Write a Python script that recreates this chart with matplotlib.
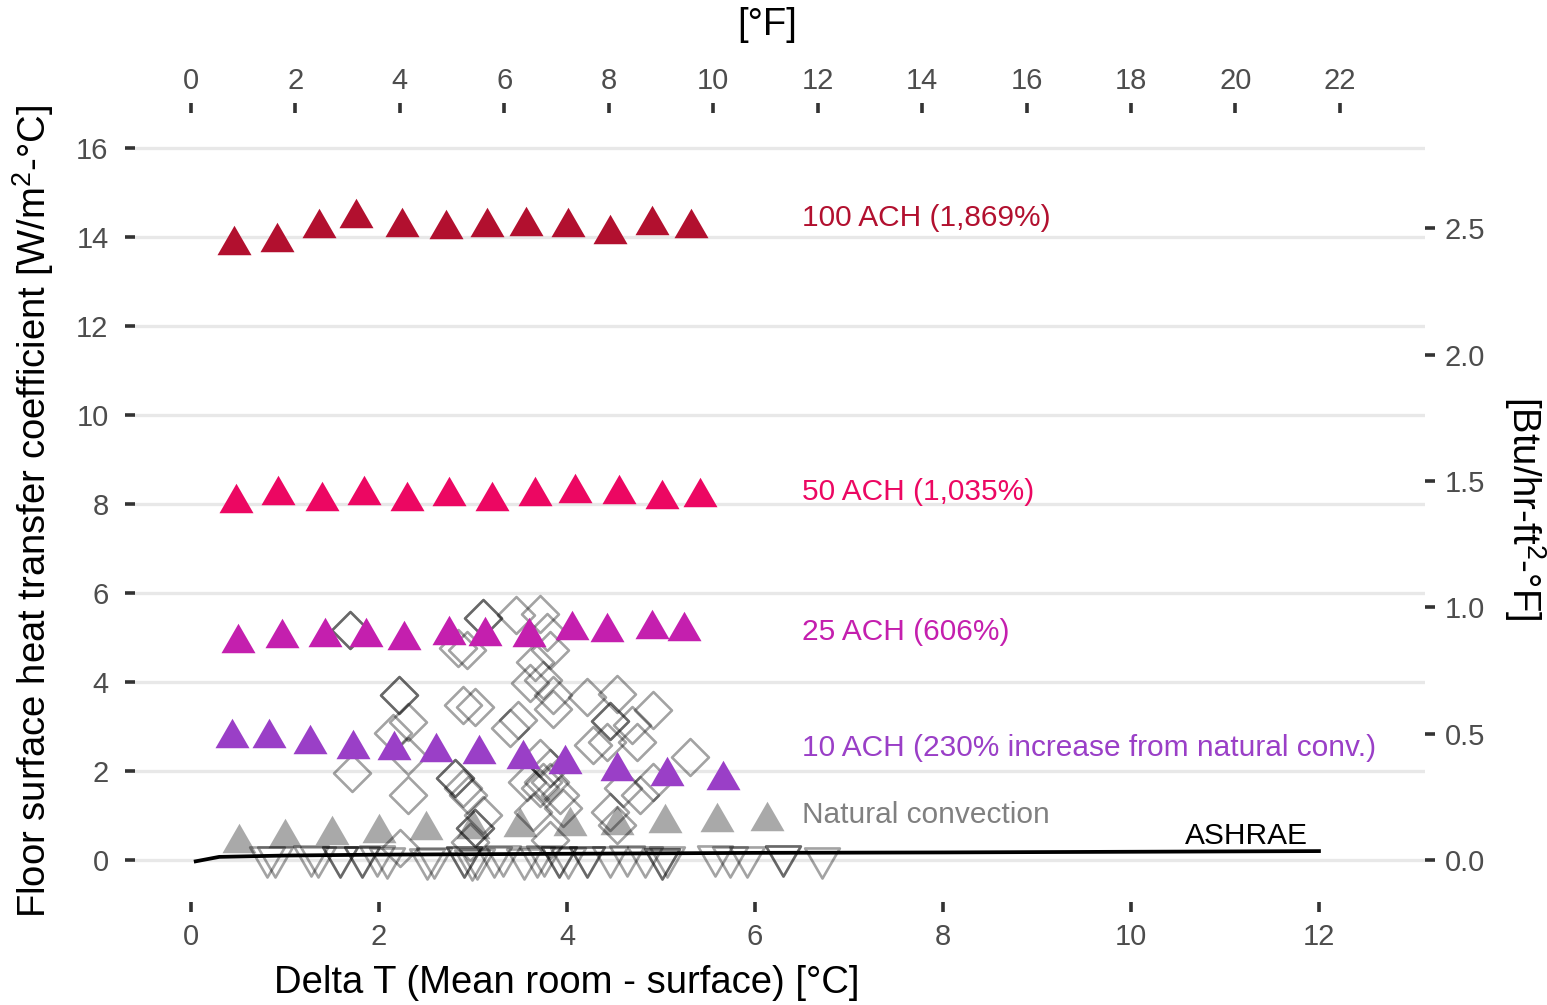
import matplotlib.pyplot as plt
import numpy as np
from matplotlib.path import Path

plt.rcParams['font.family'] = ['Liberation Sans', 'DejaVu Sans']
plt.rcParams['mathtext.fontset'] = 'custom'
plt.rcParams['mathtext.rm'] = 'Liberation Sans'
plt.rcParams['mathtext.it'] = 'Liberation Sans:italic'

# Simulated values (filled triangles), Delta T [C] vs h [W/m2-C]
ach100_x = [0.46, 0.92, 1.36, 1.76, 2.24, 2.71, 3.15, 3.56, 4.01, 4.46, 4.90, 5.32]
ach100_y = [13.94, 14.01, 14.32, 14.55, 14.33, 14.29, 14.34, 14.36, 14.33, 14.18, 14.38, 14.31]

ach50_x = [0.48, 0.93, 1.39, 1.84, 2.30, 2.74, 3.20, 3.66, 4.09, 4.55, 5.01, 5.42]
ach50_y = [8.14, 8.32, 8.18, 8.32, 8.19, 8.30, 8.19, 8.29, 8.35, 8.33, 8.23, 8.27]

ach25_x = [0.50, 0.97, 1.43, 1.86, 2.27, 2.74, 3.13, 3.60, 4.05, 4.43, 4.90, 5.24]
ach25_y = [5.00, 5.09, 5.12, 5.12, 5.06, 5.17, 5.15, 5.12, 5.28, 5.24, 5.30, 5.26]

ach10_x = [0.44, 0.83, 1.27, 1.72, 2.16, 2.61, 3.06, 3.53, 3.98, 4.53, 5.06, 5.66]
ach10_y = [2.86, 2.86, 2.71, 2.61, 2.59, 2.55, 2.49, 2.39, 2.28, 2.12, 2.01, 1.92]

natural_x = [0.51, 1.00, 1.50, 2.00, 2.50, 3.00, 3.50, 4.03, 4.53, 5.04, 5.60, 6.13]
natural_y = [0.50, 0.61, 0.67, 0.73, 0.78, 0.80, 0.85, 0.88, 0.90, 0.95, 0.97, 0.99]

# Measured values (open diamonds)
diamond_x = [1.69, 1.69, 3.11, 3.11, 3.46, 3.71, 3.79, 2.84, 2.94, 3.82, 3.66,
             2.21, 2.21, 3.61, 3.74, 3.85, 4.21, 4.53, 2.89, 3.02, 2.31, 3.48,
             4.46, 4.46, 4.69, 4.91, 3.39, 2.15, 2.31, 3.71, 4.28, 4.43, 4.74,
             5.31, 3.82, 1.71, 2.81, 2.81, 2.89, 2.95, 2.31, 3.57, 3.71, 3.82,
             3.93, 4.60, 4.78, 4.91, 3.11, 3.02, 3.02, 3.64, 3.96, 4.46, 4.53,
             2.22, 2.97, 3.82, 3.74, 3.85]
diamond_y = [5.17, 5.17, 5.44, 5.44, 5.51, 5.53, 5.12, 4.76, 4.72, 4.72, 4.45,
             3.71, 3.71, 3.98, 4.04, 3.71, 3.66, 3.73, 3.48, 3.44, 3.10, 3.15,
             3.12, 3.12, 3.03, 3.37, 2.97, 2.85, 2.34, 2.29, 2.58, 2.65, 2.65,
             2.31, 2.07, 1.96, 1.84, 1.84, 1.62, 1.46, 1.46, 1.75, 1.62, 1.75,
             1.46, 1.62, 1.46, 1.75, 1.01, 0.72, 0.72, 1.08, 1.17, 1.08, 0.79,
             0.27, 0.40, 0.45, 1.75, 3.40]

# Measured values (open inverted triangles)
vtri_x = [0.81, 0.89, 1.28, 1.35, 1.59, 1.59, 1.82, 1.82, 1.98, 2.08, 2.51,
          2.58, 2.90, 2.90, 2.99, 3.04, 3.22, 3.32, 3.54, 3.68, 3.75, 3.91,
          3.91, 4.01, 4.21, 4.21, 4.46, 4.64, 4.83, 5.01, 5.01, 5.06, 5.57,
          5.73, 5.91, 6.30, 6.30, 6.71]
vtri_y = [-0.04, -0.04, -0.03, -0.05, -0.04, -0.04, -0.04, -0.04, -0.02, -0.06, -0.10,
          -0.06, -0.05, -0.05, -0.11, -0.08, -0.04, -0.03, -0.10, -0.05, -0.03, -0.04,
          -0.04, -0.06, -0.05, -0.05, -0.04, -0.03, -0.05, -0.09, -0.09, -0.04, -0.03,
          -0.04, -0.05, -0.03, -0.03, -0.06]

# ASHRAE correlation line
ashrae_x = [0.05, 0.3, 1, 2, 4, 6, 8, 10, 12]
ashrae_y = [-0.03, 0.07, 0.10, 0.12, 0.14, 0.16, 0.17, 0.185, 0.20]

labels = ['100 ACH (1,869%)', '50 ACH (1,035%)', '25 ACH (606%)',
          '10 ACH (230% increase from natural conv.)', 'Natural convection']
label_y = [14.43, 8.27, 5.12, 2.52, 1.01]
colors = ['#B2102F', '#EC0762', '#C41FAE', '#9A3FC7', '#808080']

# marker shapes
tri_up = Path([(0, 0.866), (-1, -0.866), (1, -0.866), (0, 0.866)],
              [Path.MOVETO, Path.LINETO, Path.LINETO, Path.CLOSEPOLY])
tri_down = Path([(0, -0.866), (-1, 0.866), (1, 0.866), (0, -0.866)],
                [Path.MOVETO, Path.LINETO, Path.LINETO, Path.CLOSEPOLY])
diamond = Path([(0, 1), (1, 0), (0, -1), (-1, 0), (0, 1)],
               [Path.MOVETO, Path.LINETO, Path.LINETO, Path.LINETO, Path.CLOSEPOLY])

fig = plt.figure(figsize=(15.47, 10.05), dpi=100)
ax = fig.add_axes([135 / 1547, 1 - 902 / 1005, 1290 / 1547, 789 / 1005])
ax.set_xlim(-0.596, 13.128)
ax.set_ylim(-0.944, 16.787)

# grid
for yv in range(0, 17, 2):
    ax.axhline(yv, color='#E8E8E8', lw=2.4, zorder=0)

ax.plot(natural_x, natural_y, ls='none', marker=tri_up, ms=24.5,
        color='#A9A9A9', mew=0, zorder=2)
ax.plot(diamond_x, diamond_y, ls='none', marker=diamond, ms=26.6,
        mfc='none', mec=(0, 0, 0, 0.36), mew=1.9, zorder=3)
ax.plot(vtri_x, vtri_y, ls='none', marker=tri_down, ms=25,
        mfc='none', mec=(0, 0, 0, 0.36), mew=1.9, zorder=3)

series = [(ach100_x, ach100_y), (ach50_x, ach50_y), (ach25_x, ach25_y), (ach10_x, ach10_y)]
for (xs, ys), c in zip(series, colors[:4]):
    ax.plot(xs, ys, ls='none', marker=tri_up, ms=24.5, color=c, mew=0, zorder=4)

ax.plot(ashrae_x, ashrae_y, color='black', lw=2.7, zorder=5)

for lab, yv, c in zip(labels, label_y, colors):
    ax.text(6.5, yv, lab, color=c, fontsize=21.5, ha='left', va='center')
ax.text(11.88, 0.54, 'ASHRAE', color='black', fontsize=21.5, ha='right', va='center')

for s in ax.spines.values():
    s.set_visible(False)

ax.set_xticks(range(0, 13, 2))
ax.set_yticks(range(0, 17, 2))
ax.tick_params(axis='both', length=7, width=2.6, color='#333333',
               labelsize=21, labelcolor='#4D4D4D')
ax.tick_params(axis='y', pad=12)
ax.tick_params(axis='x', pad=8)

# secondary axes
top = ax.secondary_xaxis('top', functions=(lambda c: c * 1.8, lambda f: f / 1.8))
top.set_xticks(range(0, 23, 2))
top.tick_params(length=7, width=2.6, color='#333333', labelsize=21,
                labelcolor='#4D4D4D', pad=6)
right = ax.secondary_yaxis('right', functions=(lambda w: w / 5.678, lambda b: b * 5.678))
right.set_yticks([0, 0.5, 1.0, 1.5, 2.0, 2.5])
right.set_yticklabels(['0.0', '0.5', '1.0', '1.5', '2.0', '2.5'])
right.tick_params(length=7, width=2.6, color='#333333', labelsize=21,
                  labelcolor='#4D4D4D', pad=7)
for sec in (top, right):
    for s in sec.spines.values():
        s.set_visible(False)

fig.text(567 / 1547, 1 - 983 / 1005, 'Delta T (Mean room - surface) [°C]',
         fontsize=27.5, ha='center', va='center')
fig.text(767 / 1547, 1 - 25 / 1005, '[°F]', fontsize=27.5, ha='center', va='center')
fig.text(33 / 1547, 1 - 511 / 1005, r'Floor surface heat transfer coefficient [W/m$^2$-°C]',
         fontsize=27.5, ha='center', va='center', rotation=90)
fig.text(1525 / 1547, 1 - 508 / 1005, r'[Btu/hr-ft$^2$-°F]',
         fontsize=27.5, ha='center', va='center', rotation=270)

fig.savefig('out.png', dpi=100)
